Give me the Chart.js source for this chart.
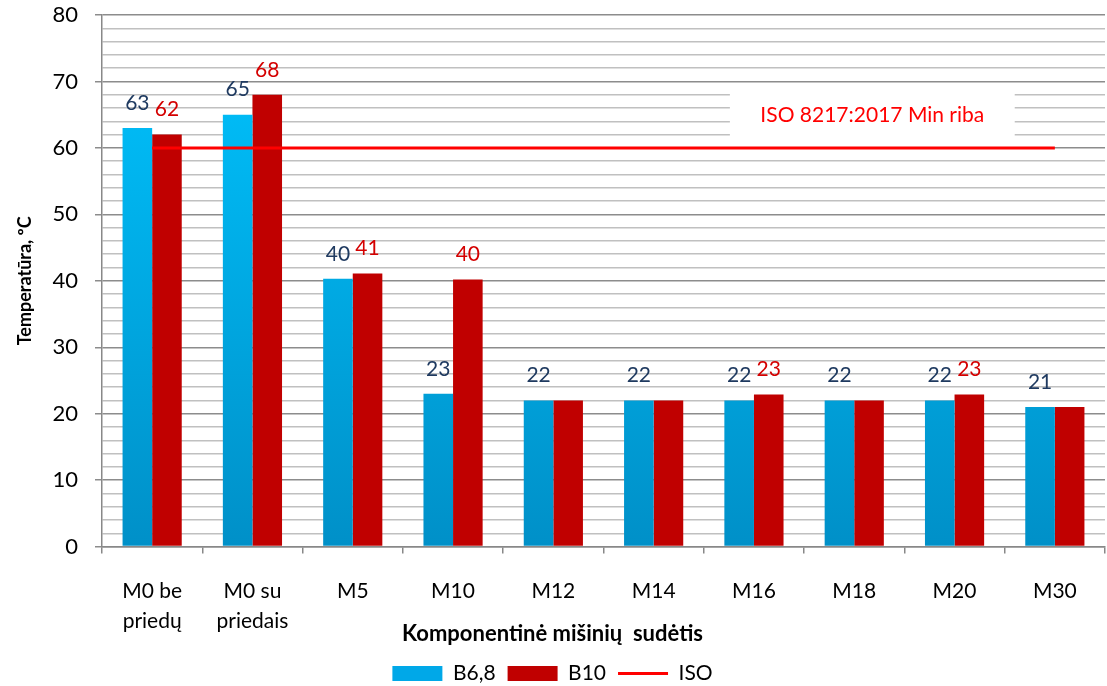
<!DOCTYPE html>
<html>
<head>
<meta charset="utf-8">
<script src="https://cdn.jsdelivr.net/npm/chart.js@4"></script>
<style>
  html, body { margin: 0; padding: 0; background: #fff; }
  #wrap { width: 1107px; height: 686px; }
</style>
</head>
<body>
<div id="wrap"><canvas id="tempChart"></canvas></div>
<script>
var categories = [["M0 be", "priedų"], ["M0 su", "priedais"], "M5", "M10", "M12", "M14", "M16", "M18", "M20", "M30"];
var b68 = [63, 65, 40.3, 23, 22, 22, 22, 22, 22, 21];
var b10 = [62, 68, 41.1, 40.2, 22, 22, 22.9, 22, 22.9, 21];
var iso = [60, 60, 60, 60, 60, 60, 60, 60, 60, 60];
var isoText = "ISO 8217:2017 Min riba";

var FONT = "Lato, 'Noto Sans', sans-serif";

function blueGradient(context) {
  var chart = context.chart;
  var area = chart.chartArea;
  if (!area) return "#00B0F0";
  var g = chart.ctx.createLinearGradient(0, area.top, 0, area.bottom);
  g.addColorStop(0, "#00C4FF");
  g.addColorStop(1, "#0090C8");
  return g;
}

// data labels above the bars (B10 label skipped when it matches B6,8)
var barLabels = {
  id: "barLabels",
  afterDatasetsDraw: function (chart) {
    var ctx = chart.ctx;
    ctx.save();
    ctx.font = "21px " + FONT;
    ctx.textAlign = "center";
    ctx.textBaseline = "middle";
    [0, 1].forEach(function (di) {
      var meta = chart.getDatasetMeta(di);
      var vals = chart.data.datasets[di].data;
      meta.data.forEach(function (bar, i) {
        var v = Math.round(vals[i]);
        if (di === 1 && v === Math.round(b68[i])) return;
        ctx.fillStyle = di === 0 ? "#1F3A60" : "#D40000";
        ctx.fillText(String(v), bar.x, bar.y - 25);
      });
    });
    ctx.restore();
  }
};

// white box with the ISO note
var isoNote = {
  id: "isoNote",
  beforeDatasetsDraw: function (chart) {
    var x = chart.scales.x, y = chart.scales.y, ctx = chart.ctx;
    var l = x.getPixelForValue(5.76), r = x.getPixelForValue(8.6);
    var t = y.getPixelForValue(69), b = y.getPixelForValue(61.1);
    ctx.save();
    ctx.fillStyle = "#fff";
    ctx.fillRect(l, t, r - l, b - t);
    ctx.fillStyle = "#FF0000";
    ctx.font = "21px " + FONT;
    ctx.textAlign = "center";
    ctx.textBaseline = "middle";
    ctx.fillText(isoText, (l + r) / 2, (t + b) / 2 + 1);
    ctx.restore();
  }
};

var ctx = document.getElementById("tempChart").getContext("2d");
var tempChart = new Chart(ctx, {
  type: "bar",
  data: {
    labels: categories,
    datasets: [
      {
        label: "B6,8",
        data: b68,
        backgroundColor: blueGradient,
        barPercentage: 1,
        categoryPercentage: 0.59,
        order: 2
      },
      {
        label: "B10",
        data: b10,
        backgroundColor: "#C00000",
        barPercentage: 1,
        categoryPercentage: 0.59,
        order: 2
      },
      {
        type: "line",
        label: "ISO",
        data: iso,
        borderColor: "#FF0000",
        backgroundColor: "#FF0000",
        borderWidth: 3,
        pointRadius: 0,
        order: 1
      }
    ]
  },
  options: {
    responsive: true,
    maintainAspectRatio: false,
    animation: false,
    layout: { padding: { top: 15, right: 2, left: 0, bottom: -8 } },
    scales: {
      x: {
        grid: { drawOnChartArea: false, drawTicks: true, tickLength: 7, color: "#888", lineWidth: 1.5 },
        border: { color: "#888", width: 1.5 },
        ticks: { color: "#000", font: { family: FONT, size: 21, lineHeight: 1.45 }, padding: 22, autoSkip: false, maxRotation: 0 },
        afterFit: function (s) {
          s.height = 94;
          s.paddingLeft = 0;
          s.paddingRight = 0;
        }
      },
      y: {
        min: 0,
        max: 80,
        ticks: {
          stepSize: 2,
          autoSkip: false,
          color: "#000",
          font: { family: FONT, size: 22 },
          padding: 17,
          callback: function (v) { return v % 10 === 0 ? v : ""; }
        },
        grid: {
          tickLength: 7,
          lineWidth: 1.5,
          color: function (c) { return c.tick && c.tick.value % 10 === 0 ? "#8C8C8C" : "#C0C0C0"; },
          tickColor: function (c) { return c.tick && c.tick.value % 10 === 0 ? "#8C8C8C" : "rgba(0,0,0,0)"; }
        },
        border: { color: "#888", width: 1.5 },
        title: {
          display: true,
          text: "Temperatūra, ºC",
          color: "#000",
          font: { family: FONT, size: 18, weight: "bold" },
          padding: { top: 14, bottom: 0 }
        },
        afterFit: function (s) {
          s.width = 102;
          s.paddingTop = 0;
          s.paddingBottom = 0;
        }
      }
    },
    plugins: {
      tooltip: { enabled: false },
      title: {
        display: true,
        position: "bottom",
        text: "Komponentinė mišinių  sudėtis",
        color: "#000",
        font: { family: FONT, size: 22, weight: "bold" },
        padding: { top: -20, bottom: 4 },
        weight: 500
      },
      legend: {
        position: "bottom",
        weight: 3000,
        labels: {
          color: "#000",
          font: { family: FONT, size: 21 },
          boxWidth: 50,
          boxHeight: 15,
          padding: 12,
          usePointStyle: true,
          pointStyleWidth: 50,
          generateLabels: function (chart) {
            return chart.data.datasets.map(function (ds, i) {
              var isLine = ds.type === "line";
              return {
                text: ds.label,
                fillStyle: i === 0 ? "#00A8E8" : ds.backgroundColor,
                strokeStyle: isLine ? ds.borderColor : "rgba(0,0,0,0)",
                lineWidth: isLine ? 3 : 0,
                pointStyle: isLine ? "line" : "rect",
                fontColor: "#000",
                datasetIndex: i,
                hidden: false
              };
            });
          }
        }
      }
    }
  },
  plugins: [barLabels, isoNote]
});
</script>
</body>
</html>
